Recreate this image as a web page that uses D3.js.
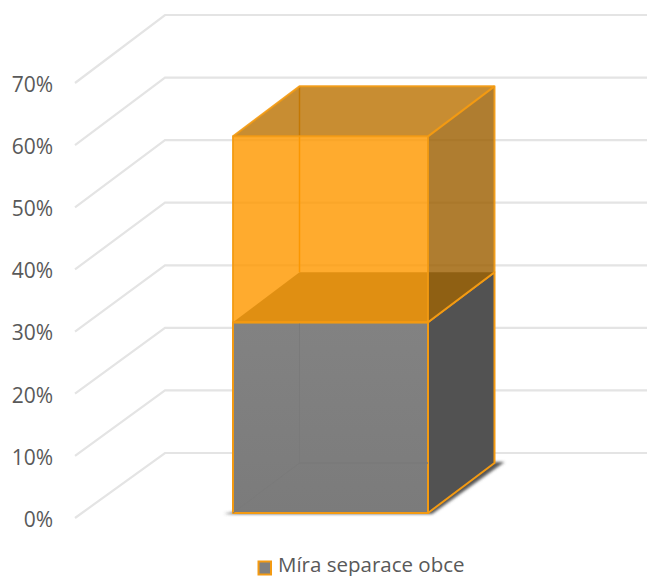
<!DOCTYPE html>
<html>
<head>
<meta charset="utf-8">
<script src="https://cdn.jsdelivr.net/npm/d3@7"></script>
<style>
html, body { margin: 0; padding: 0; background: #fff; }
svg { display: block; }
text { font-family: "Open Sans", sans-serif; fill: #595959; }
</style>
</head>
<body>
<script>
var tickValues = [0, 0.1, 0.2, 0.3, 0.4, 0.5, 0.6, 0.7];
var categories = ["Obec"];
var seriesNames = ["Míra separace obce", "Zbývá do cíle"];
var seriesValues = [[0.306], [0.298]];
var legendLabels = ["Míra separace obce"];

var width = 647, height = 576;

var svg = d3.select("body").append("svg")
    .attr("width", width)
    .attr("height", height);

var defs = svg.append("defs");
defs.append("filter").attr("id", "soft")
    .append("feGaussianBlur").attr("stdDeviation", 0.6);
defs.append("filter").attr("id", "shadow")
    .attr("x", "-10%").attr("y", "-30%").attr("width", "120%").attr("height", "160%")
    .append("feGaussianBlur").attr("stdDeviation", 1.6);
var grad = defs.append("linearGradient").attr("id", "greyFront")
    .attr("x1", 0).attr("y1", 0).attr("x2", 0).attr("y2", 1);
grad.append("stop").attr("offset", "0%").attr("stop-color", "#828282");
grad.append("stop").attr("offset", "100%").attr("stop-color", "#7b7b7b");

// front edge of the wall, back edge of the wall, front plane of the bar
var yFront = d3.scaleLinear().domain([0, 0.7]).range([518, 83]);
var yBack = d3.scaleLinear().domain([0, 0.7]).range([453, 15]);
var yBar = d3.scaleLinear().domain([0, 0.7]).range([513, 76.5]);

var x = d3.scaleBand().domain(categories).range([233, 428]);
var wallDepth = {dx: 90};
var barDepth = {dx: 66.5, dy: -50};

// gridlines
var grid = svg.append("g").attr("class", "grid")
    .attr("fill", "none")
    .attr("stroke", "#e4e4e4")
    .attr("stroke-width", 2.2)
    .attr("filter", "url(#soft)");

grid.selectAll("polyline")
    .data(tickValues)
    .enter().append("polyline")
    .attr("points", function(d) {
        return [[75, yFront(d)], [75 + wallDepth.dx, yBack(d)], [width, yBack(d)]].join(" ");
    });

// value labels
var yAxis = d3.axisLeft(yFront)
    .tickValues(tickValues)
    .tickSize(0)
    .tickPadding(0)
    .tickFormat(d3.format(".0%"));

var axisG = svg.append("g")
    .attr("class", "y axis")
    .attr("transform", "translate(53,0)")
    .call(yAxis);
axisG.select(".domain").remove();
axisG.selectAll("text").style("font-size", "21px").attr("dy", "0.4em");

// bar faces
var stackData = [{}];
seriesNames.forEach(function(s, i) { stackData[0][s] = seriesValues[i][0]; });
var layers = d3.stack().keys(seriesNames)(stackData);

var x0 = x(categories[0]), x1 = x0 + x.bandwidth();

function face(pts) { return pts.join(" "); }
function front(lo, hi) { return face([[x0, yBar(lo)], [x1, yBar(lo)], [x1, yBar(hi)], [x0, yBar(hi)]]); }
function right(lo, hi) {
    return face([[x1, yBar(lo)], [x1 + barDepth.dx, yBar(lo) + barDepth.dy],
                 [x1 + barDepth.dx, yBar(hi) + barDepth.dy], [x1, yBar(hi)]]);
}
function cap(v) {
    return face([[x0, yBar(v)], [x1, yBar(v)],
                 [x1 + barDepth.dx, yBar(v) + barDepth.dy], [x0 + barDepth.dx, yBar(v) + barDepth.dy]]);
}

var lower = layers[0][0], upper = layers[1][0];
var edge = "#f39a12";

var bar = svg.append("g").attr("class", "bar").attr("stroke-linejoin", "round");

// shadow on the floor
bar.append("polygon")
    .attr("points", face([[x0 - 9, yBar(0) + 1], [x1 + 4, yBar(0) + 1],
        [x1 + barDepth.dx + 10, yBar(0) + barDepth.dy - 1], [x1 + barDepth.dx - 8, yBar(0) + barDepth.dy - 1]]))
    .attr("fill", "#555")
    .attr("filter", "url(#shadow)");

// lower box
bar.append("polygon").attr("points", right(lower[0], lower[1]))
    .attr("fill", "#525252").attr("stroke", edge).attr("stroke-width", 2);
bar.append("polygon").attr("points", front(lower[0], lower[1]))
    .attr("fill", "url(#greyFront)").attr("stroke", edge).attr("stroke-width", 2);

// inner edges seen through the grey front
bar.append("polyline")
    .attr("points", face([[x0, yBar(0)], [x0 + barDepth.dx, yBar(0) + barDepth.dy],
        [x1, yBar(0) + barDepth.dy], [x0 + barDepth.dx, yBar(0) + barDepth.dy], [x0 + barDepth.dx, yBar(lower[1])]]))
    .attr("fill", "none").attr("stroke", "#7a7a7a").attr("stroke-width", 1);

// upper box, see through
bar.append("polygon").attr("points", cap(upper[0])).attr("fill", "#556666");
bar.append("line")
    .attr("x1", x0 + barDepth.dx).attr("x2", x0 + barDepth.dx)
    .attr("y1", yBar(upper[0]) + barDepth.dy).attr("y2", yBar(upper[1]) + barDepth.dy)
    .attr("stroke", "#e89008").attr("stroke-width", 1.5);
bar.append("polygon").attr("points", right(upper[0], upper[1]))
    .attr("fill", "#9d5f00").attr("fill-opacity", 0.81);
bar.append("polygon").attr("points", cap(upper[1]))
    .attr("fill", "#bb7302").attr("fill-opacity", 0.81);
bar.append("polygon").attr("points", front(upper[0], upper[1]))
    .attr("fill", "#ff9800").attr("fill-opacity", 0.82);

// orange edges on top
bar.append("polyline")
    .attr("points", face([[x0, yBar(upper[0])], [x1, yBar(upper[0])], [x1 + barDepth.dx, yBar(upper[0]) + barDepth.dy]]))
    .attr("fill", "none").attr("stroke", edge).attr("stroke-width", 2);
bar.append("polygon").attr("points", front(upper[0], upper[1]))
    .attr("fill", "none").attr("stroke", edge).attr("stroke-width", 2).attr("stroke-opacity", 0.9);
bar.append("polyline")
    .attr("points", face([[x0, yBar(upper[1])], [x0 + barDepth.dx, yBar(upper[1]) + barDepth.dy],
        [x1 + barDepth.dx, yBar(upper[1]) + barDepth.dy], [x1 + barDepth.dx, yBar(upper[0]) + barDepth.dy]]))
    .attr("fill", "none").attr("stroke", edge).attr("stroke-width", 2).attr("stroke-opacity", 0.9);
bar.append("line")
    .attr("x1", x1).attr("y1", yBar(upper[1]))
    .attr("x2", x1 + barDepth.dx).attr("y2", yBar(upper[1]) + barDepth.dy)
    .attr("stroke", edge).attr("stroke-width", 2);

// legend
var legend = svg.append("g").attr("class", "legend").attr("transform", "translate(258,561)");
legend.selectAll("rect").data(legendLabels).enter().append("rect")
    .attr("x", 0.5).attr("y", 0.5).attr("width", 12.5).attr("height", 13)
    .attr("fill", "#808080").attr("stroke", edge).attr("stroke-width", 2);
legend.selectAll("text").data(legendLabels).enter().append("text")
    .attr("x", 20).attr("y", 10.5)
    .style("font-size", "20.5px")
    .text(function(d) { return d; });
</script>
</body>
</html>
